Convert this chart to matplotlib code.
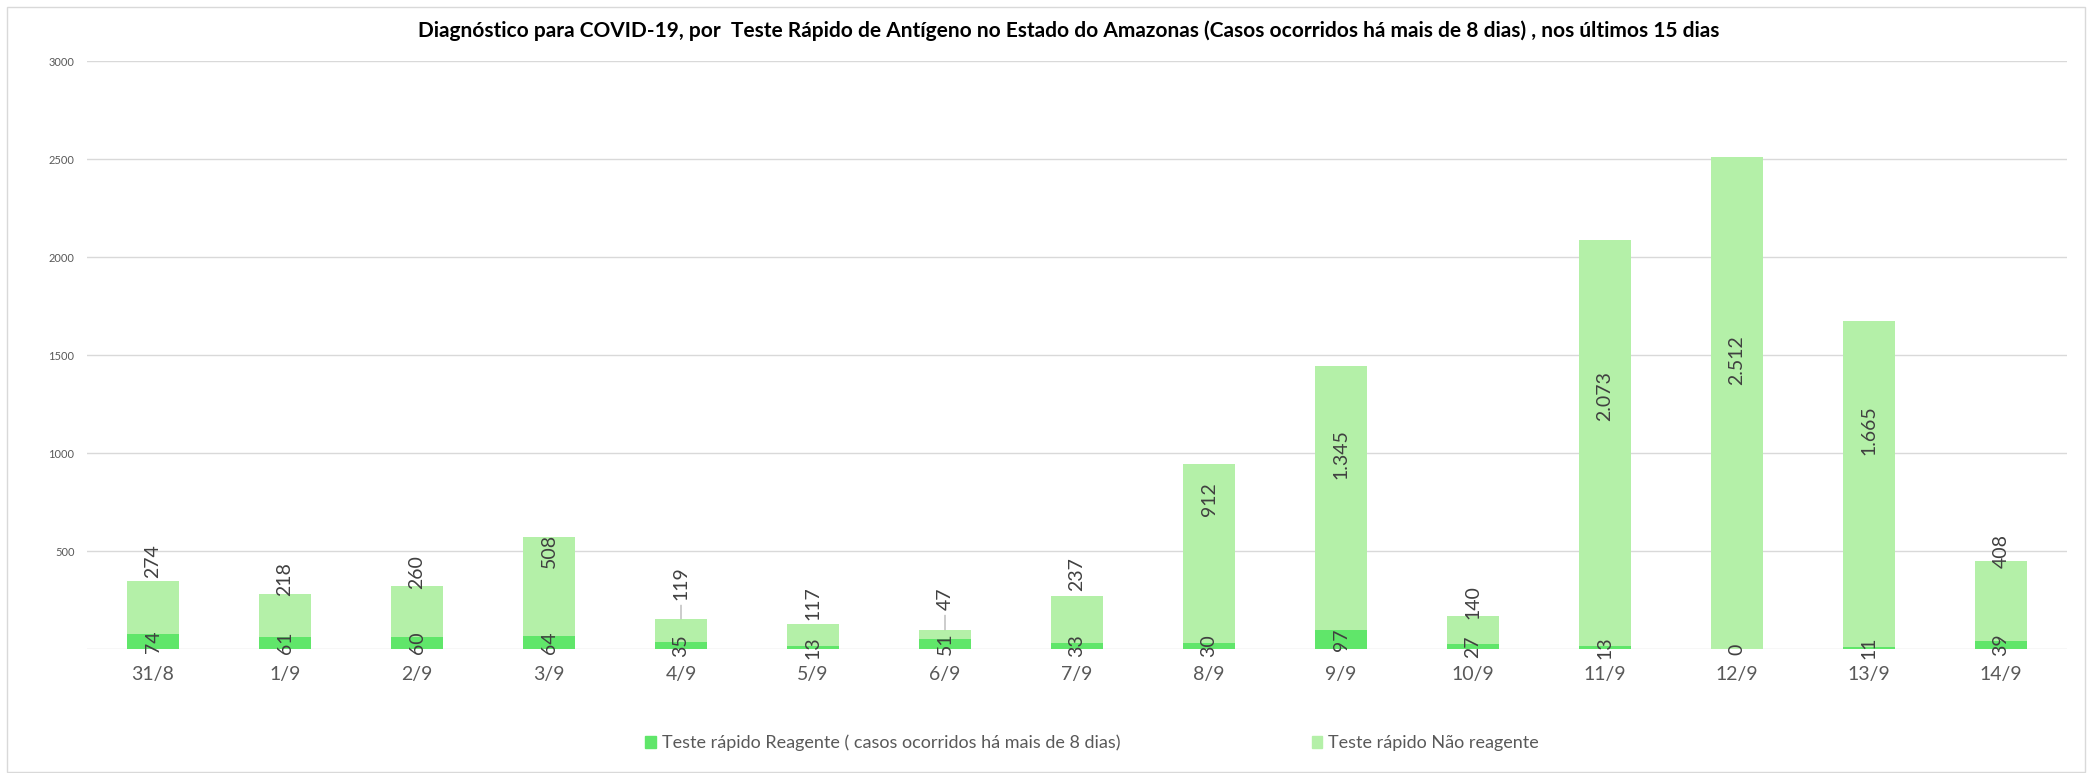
import matplotlib.pyplot as plt
import numpy as np
from matplotlib.patches import Rectangle, Patch

plt.rcParams['font.family'] = ['Lato', 'DejaVu Sans']

# dados
dias = ['31/8', '1/9', '2/9', '3/9', '4/9', '5/9', '6/9', '7/9',
        '8/9', '9/9', '10/9', '11/9', '12/9', '13/9', '14/9']
reagente = [74, 61, 60, 64, 35, 13, 51, 33, 30, 97, 27, 13, 0, 11, 39]
nao_reagente = [274, 218, 260, 508, 119, 117, 47, 237, 912, 1345, 140, 2073, 2512, 1665, 408]

# posicao (em unidades do eixo y) dos rotulos da serie nao reagente, como no original
pos_rotulo_nao = [447, 359, 391, 499, 338, 235, 258, 382, 765, 995, 241, 1292, 1474, 1115, 501]
com_linha = [4, 6]

cor_reag = '#60E66A'
cor_nao = '#B4F0A8'
cinza_txt = '#595959'
cor_rotulo = '#404040'
cor_grade = '#D9D9D9'

W, H = 2092, 773
fig = plt.figure(figsize=(W / 100, H / 100), dpi=100)
ax = fig.add_axes([87 / W, (H - 649) / H, 1980 / W, 588 / H])

x = np.arange(len(dias))
ax.bar(x, reagente, width=0.4, color=cor_reag, zorder=2)
ax.bar(x, nao_reagente, width=0.4, bottom=reagente, color=cor_nao, zorder=2)

def fmt(v):
    return f"{v:,}".replace(',', '.')

tam = 14
for i in x:
    ax.text(i, reagente[i] / 2, fmt(reagente[i]), rotation=90, ha='center', va='center',
            fontsize=tam, color=cor_rotulo, zorder=4)
    total = reagente[i] + nao_reagente[i]
    if i in com_linha:
        ax.annotate(fmt(nao_reagente[i]), xy=(i, total), xytext=(i, pos_rotulo_nao[i]),
                    rotation=90, ha='center', va='center', fontsize=tam, color=cor_rotulo,
                    arrowprops=dict(arrowstyle='-', color='#A6A6A6', lw=0.8,
                                    shrinkA=2, shrinkB=0), zorder=4)
    else:
        ax.text(i, pos_rotulo_nao[i], fmt(nao_reagente[i]), rotation=90, ha='center',
                va='center', fontsize=tam, color=cor_rotulo, zorder=4)

ax.set_xlim(-0.5, len(dias) - 0.5)
ax.set_ylim(0, 3000)
ax.set_yticks(np.arange(0, 3001, 500))
ax.set_yticklabels([''] + [str(v) for v in range(500, 3001, 500)])
ax.set_xticks(x)
ax.set_xticklabels(dias)
ax.tick_params(axis='y', length=0, labelsize=8, labelcolor=cinza_txt, pad=9)
ax.tick_params(axis='x', length=0, labelsize=14, labelcolor=cinza_txt, pad=12)
ax.grid(axis='y', color=cor_grade, lw=1.0, zorder=0)
ax.set_axisbelow(True)
for s in ax.spines.values():
    s.set_visible(False)

fig.text(1069 / W, 1 - 31 / H,
         'Diagnóstico para COVID-19, por  Teste Rápido de Antígeno no Estado do Amazonas '
         '(Casos ocorridos há mais de 8 dias) , nos últimos 15 dias',
         ha='center', va='center', fontsize=15, fontweight='bold', color='black')

handles = [Patch(color=cor_reag, label='Teste rápido Reagente ( casos ocorridos há mais de 8 dias)'),
           Patch(color=cor_nao, label='Teste rápido Não reagente')]
leg = fig.legend(handles=handles, loc='center', bbox_to_anchor=(1092 / W, 1 - 743 / H),
                 ncol=2, frameon=False, fontsize=13, handlelength=0.6, handleheight=0.6,
                 handletextpad=0.3, columnspacing=10.6)
for t in leg.get_texts():
    t.set_color(cinza_txt)

fig.patches.append(Rectangle((7 / W, 1 / H), 2078 / W, 765 / H, transform=fig.transFigure,
                             fill=False, edgecolor=cor_grade, lw=1.0))

plt.savefig('out.png', dpi=100)
